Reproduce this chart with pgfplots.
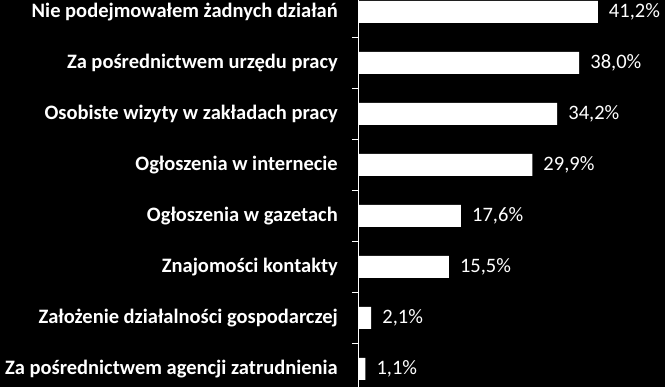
\documentclass[border=0pt]{standalone}
\usepackage{pgfplots}
\pgfplotsset{compat=1.18}
\usepackage{fontspec}
\setmainfont{Carlito}
\begin{document}
\begin{tikzpicture}[x=1pt,y=1pt]
\fill[black] (0,0) rectangle (665,387);
\begin{axis}[
  at={(359pt,0pt)}, anchor=south west,
  scale only axis, width=306pt, height=387pt,
  xbar, bar width=22pt,
  xmin=0, xmax=52.8,
  ymin=-0.235, ymax=7.353, y dir=reverse,
  axis x line=none, axis y line=left,
  axis line style={-, white, line width=1pt},
  ytick={0,...,7},
  yticklabels={Nie podejmowałem żadnych działań,
    Za pośrednictwem urzędu pracy\ ,
    Osobiste wizyty w zakładach pracy,
    Ogłoszenia w internecie,
    Ogłoszenia w gazetach,
    Znajomości kontakty,
    Założenie działalności gospodarczej,
    Za pośrednictwem agencji zatrudnienia},
  minor ytick={0.5,1.5,...,6.5},
  major tick length=0pt, minor tick length=7pt,
  tick align=outside,
  tick style={white, line width=1pt},
  yticklabel style={font=\bfseries\fontsize{20.5}{24}\selectfont, text=white, anchor=east, inner sep=0pt, xshift=-21pt},
  clip=false,
  point meta=x,
  nodes near coords={\pgfmathprintnumber[use comma,fixed,fixed zerofill,precision=1,assume math mode=true]{\pgfplotspointmeta}\%},
  every node near coord/.append style={font=\fontsize{20.5}{24}\selectfont, text=white, anchor=west, inner sep=0pt, xshift=11pt},
]
\addplot[fill=white, draw=none] coordinates {
  (41.2,0) (38.0,1) (34.2,2) (29.9,3) (17.6,4) (15.5,5) (2.1,6) (1.1,7)
};
\end{axis}
\pgfresetboundingbox
\useasboundingbox (0,0) rectangle (665,387);
\end{tikzpicture}
\end{document}
